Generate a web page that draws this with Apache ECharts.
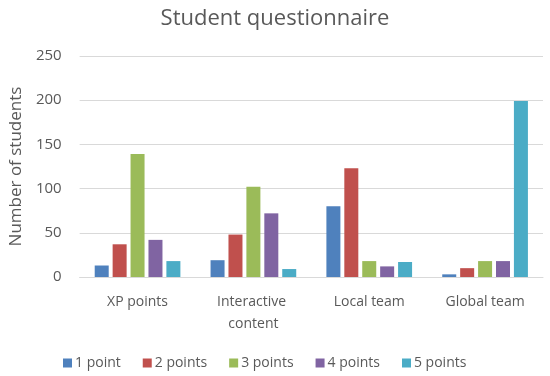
<!DOCTYPE html>
<html>
<head>
<meta charset="utf-8">
<script src="https://cdn.jsdelivr.net/npm/echarts@6/dist/echarts.min.js"></script>
<style>html,body{margin:0;padding:0;background:#fff;}#c{width:550px;height:376px;}</style>
</head>
<body>
<div id="c"></div>
<script>
const categories = ["XP points", "Interactive content", "Local team", "Global team"];
const seriesNames = ["1 point", "2 points", "3 points", "4 points", "5 points"];
const onePoint = [13, 19, 80, 3];
const twoPoints = [37, 48, 123, 10];
const threePoints = [139, 102, 18, 18];
const fourPoints = [42, 72, 12, 18];
const fivePoints = [18, 9, 17, 199];
const colors = ["#4F81BD", "#C0504D", "#9BBB59", "#8064A2", "#4BACC6"];
const values = [onePoint, twoPoints, threePoints, fourPoints, fivePoints];

const font = "'Open Sans', 'Liberation Sans', sans-serif";
const chart = echarts.init(document.getElementById('c'), null, {renderer: 'canvas'});
chart.setOption({
  animation: false,
  title: {
    text: "Student questionnaire",
    left: 'center', top: 3,
    textStyle: {fontFamily: font, fontSize: 22, fontWeight: 'normal', color: '#595959'}
  },
  legend: {
    bottom: 1, left: 58,
    itemWidth: 9, itemHeight: 9, itemGap: 22,
    icon: 'rect',
    textStyle: {fontFamily: font, fontSize: 14, color: '#595959', padding: [0, 0, 0, -2]},
    data: seriesNames
  },
  grid: {left: 75, right: 7, top: 56, bottom: 99, containLabel: false},
  xAxis: {
    type: 'category', data: categories,
    axisLine: {lineStyle: {color: '#d9d9d9'}},
    axisTick: {show: false},
    axisLabel: {fontFamily: font, fontSize: 14, color: '#595959', margin: 14, lineHeight: 22, width: 100, overflow: 'break', interval: 0}
  },
  yAxis: {
    type: 'value', min: 0, max: 250, interval: 50,
    name: "Number of students", nameLocation: 'middle', nameGap: 47,
    nameTextStyle: {fontFamily: font, fontSize: 17, color: '#595959'},
    axisLine: {show: false}, axisTick: {show: false},
    splitLine: {lineStyle: {color: '#d9d9d9'}},
    axisLabel: {fontFamily: font, fontSize: 15, color: '#595959', margin: 18}
  },
  series: seriesNames.map((n, i) => ({
    name: n, type: 'bar', data: values[i],
    barWidth: 14, barGap: '28%',
    itemStyle: {color: colors[i]}
  }))
});
</script>
</body>
</html>
